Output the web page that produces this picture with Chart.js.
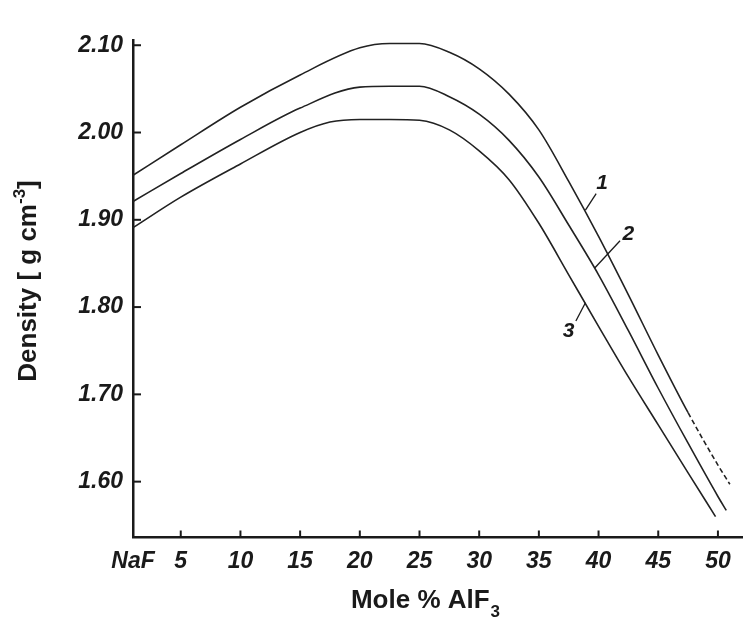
<!DOCTYPE html>
<html>
<head>
<meta charset="utf-8">
<script src="https://cdn.jsdelivr.net/npm/chart.js@4.4.1/dist/chart.umd.min.js"></script>
<style>
  html, body { margin: 0; padding: 0; background: #fff; }
  #wrap { width: 743px; height: 619px; }
</style>
</head>
<body>
<div id="wrap"><canvas id="chart"></canvas></div>
<script>
// curve 1 (top)
const molePct1 = [1, 5, 10, 15, 20, 22.5, 25, 27.5, 30, 32.5, 35, 37.5, 40, 42.5, 45, 47.5, 50, 51];
const density1 = [1.951, 1.986, 2.029, 2.066, 2.097, 2.102, 2.102, 2.092, 2.073, 2.044, 2.003, 1.944, 1.881, 1.814, 1.745, 1.679, 1.619, 1.597];
// curve 2
const molePct2 = [1, 5, 10, 15, 20, 22.5, 25, 27.5, 30, 32.5, 35, 37.5, 40, 42.5, 45, 47.5, 50, 50.7];
const density2 = [1.921, 1.953, 1.992, 2.028, 2.052, 2.053, 2.053, 2.041, 2.021, 1.991, 1.949, 1.894, 1.837, 1.773, 1.707, 1.644, 1.583, 1.567];
// curve 3 (bottom)
const molePct3 = [1, 5, 10, 15, 17.5, 20, 22.5, 25, 27.5, 30, 32.5, 35, 37.5, 40, 42.5, 45, 47.5, 49.8];
const density3 = [1.891, 1.926, 1.964, 2.000, 2.012, 2.015, 2.015, 2.014, 2.003, 1.979, 1.946, 1.896, 1.837, 1.778, 1.720, 1.665, 1.610, 1.560];

const xTicks = [1, 5, 10, 15, 20, 25, 30, 35, 40, 45, 50];
const xTickLabels = ['NaF', '5', '10', '15', '20', '25', '30', '35', '40', '45', '50'];
const yTicks = [1.6, 1.7, 1.8, 1.9, 2.0, 2.1];

// curve numbers with their leader lines (data units)
const curveNames = ['1', '2', '3'];
const nameAt = [[40.3, 1.942], [42.5, 1.883], [37.5, 1.772]];
const leaderFrom = [[38.9, 1.911], [39.7, 1.845], [38.9, 1.805]];
const leaderTo = [[39.8, 1.930], [41.8, 1.876], [38.1, 1.784]];

const FONT = "'Liberation Sans', Arial, sans-serif";
const INK = '#1a1a1a';

function toPoints(xs, ys) {
    return xs.map((v, i) => ({ x: v, y: ys[i] }));
}

function curve(xs, ys, dashFrom) {
    return {
        data: toPoints(xs, ys),
        borderColor: '#222',
        borderWidth: 1.6,
        pointRadius: 0,
        fill: false,
        cubicInterpolationMode: 'monotone',
        segment: {
            borderDash: c => (dashFrom != null && c.p0DataIndex >= dashFrom) ? [5, 3] : undefined
        }
    };
}

const decorations = {
    id: 'decorations',
    afterDraw(chart) {
        const { ctx, chartArea, scales: { x, y } } = chart;
        ctx.save();
        ctx.strokeStyle = INK;
        ctx.lineWidth = 2;
        // inward tick marks
        xTicks.forEach((v, i) => {
            if (i === 0) return;
            const px = x.getPixelForValue(v);
            ctx.beginPath();
            ctx.moveTo(px, chartArea.bottom);
            ctx.lineTo(px, chartArea.bottom - 7);
            ctx.stroke();
        });
        yTicks.forEach(v => {
            const py = y.getPixelForValue(v);
            ctx.beginPath();
            ctx.moveTo(chartArea.left, py);
            ctx.lineTo(chartArea.left + 8, py);
            ctx.stroke();
        });

        // curve numbers
        ctx.lineWidth = 1.3;
        ctx.fillStyle = INK;
        ctx.font = `italic bold 21px ${FONT}`;
        ctx.textAlign = 'center';
        ctx.textBaseline = 'middle';
        curveNames.forEach((name, i) => {
            ctx.beginPath();
            ctx.moveTo(x.getPixelForValue(leaderFrom[i][0]), y.getPixelForValue(leaderFrom[i][1]));
            ctx.lineTo(x.getPixelForValue(leaderTo[i][0]), y.getPixelForValue(leaderTo[i][1]));
            ctx.stroke();
            ctx.fillText(name, x.getPixelForValue(nameAt[i][0]), y.getPixelForValue(nameAt[i][1]));
        });

        // x title with subscript
        ctx.textAlign = 'left';
        ctx.textBaseline = 'alphabetic';
        const main = 'Mole % AlF';
        ctx.font = `bold 26px ${FONT}`;
        const wMain = ctx.measureText(main).width;
        ctx.font = `bold 17px ${FONT}`;
        const wSub = ctx.measureText('3').width;
        const tx = 425 - (wMain + wSub) / 2;
        ctx.font = `bold 26px ${FONT}`;
        ctx.fillText(main, tx, 608);
        ctx.font = `bold 17px ${FONT}`;
        ctx.fillText('3', tx + wMain + 1, 617);

        // y title rotated with superscript
        ctx.save();
        ctx.translate(29, 281);
        ctx.rotate(-Math.PI / 2);
        ctx.textBaseline = 'middle';
        const partA = 'Density [ g cm';
        const partB = '-3';
        const partC = ']';
        ctx.font = `bold 26px ${FONT}`;
        const wA = ctx.measureText(partA).width;
        const wC = ctx.measureText(partC).width;
        ctx.font = `bold 17px ${FONT}`;
        const wB = ctx.measureText(partB).width;
        const sx = -(wA + wB + wC) / 2;
        ctx.font = `bold 26px ${FONT}`;
        ctx.fillText(partA, sx, 0);
        ctx.font = `bold 17px ${FONT}`;
        ctx.fillText(partB, sx + wA, -9);
        ctx.font = `bold 26px ${FONT}`;
        ctx.fillText(partC, sx + wA + wB, 0);
        ctx.restore();

        ctx.restore();
    }
};

new Chart(document.getElementById('chart'), {
    type: 'line',
    data: {
        datasets: [
            curve(molePct1, density1, 15),
            curve(molePct2, density2, null),
            curve(molePct3, density3, null)
        ]
    },
    options: {
        responsive: true,
        maintainAspectRatio: false,
        animation: false,
        layout: { padding: { top: 40, right: 0, left: 0, bottom: 0 } },
        plugins: { legend: { display: false }, tooltip: { enabled: false } },
        scales: {
            x: {
                type: 'linear',
                min: 1,
                max: 52.1,
                afterBuildTicks: s => { s.ticks = xTicks.map(v => ({ value: v })); },
                afterFit: s => { s.height = 81.5; },
                grid: { display: false, drawTicks: false },
                border: { display: true, color: INK, width: 2.5 },
                ticks: {
                    padding: 10,
                    color: INK,
                    maxRotation: 0,
                    autoSkip: false,
                    font: { family: FONT, size: 23, weight: 'bold', style: 'italic' },
                    callback: (v) => {
                        const i = xTicks.indexOf(v);
                        return i >= 0 ? xTickLabels[i] : '';
                    }
                }
            },
            y: {
                min: 1.536,
                max: 2.106,
                afterBuildTicks: s => { s.ticks = yTicks.map(v => ({ value: v })); },
                afterFit: s => { s.width = 133; },
                grid: { display: false, drawTicks: false },
                border: { display: true, color: INK, width: 2.5 },
                ticks: {
                    padding: 10,
                    color: INK,
                    font: { family: FONT, size: 23, weight: 'bold', style: 'italic' },
                    callback: v => v.toFixed(2)
                }
            }
        }
    },
    plugins: [decorations]
});
</script>
</body>
</html>
